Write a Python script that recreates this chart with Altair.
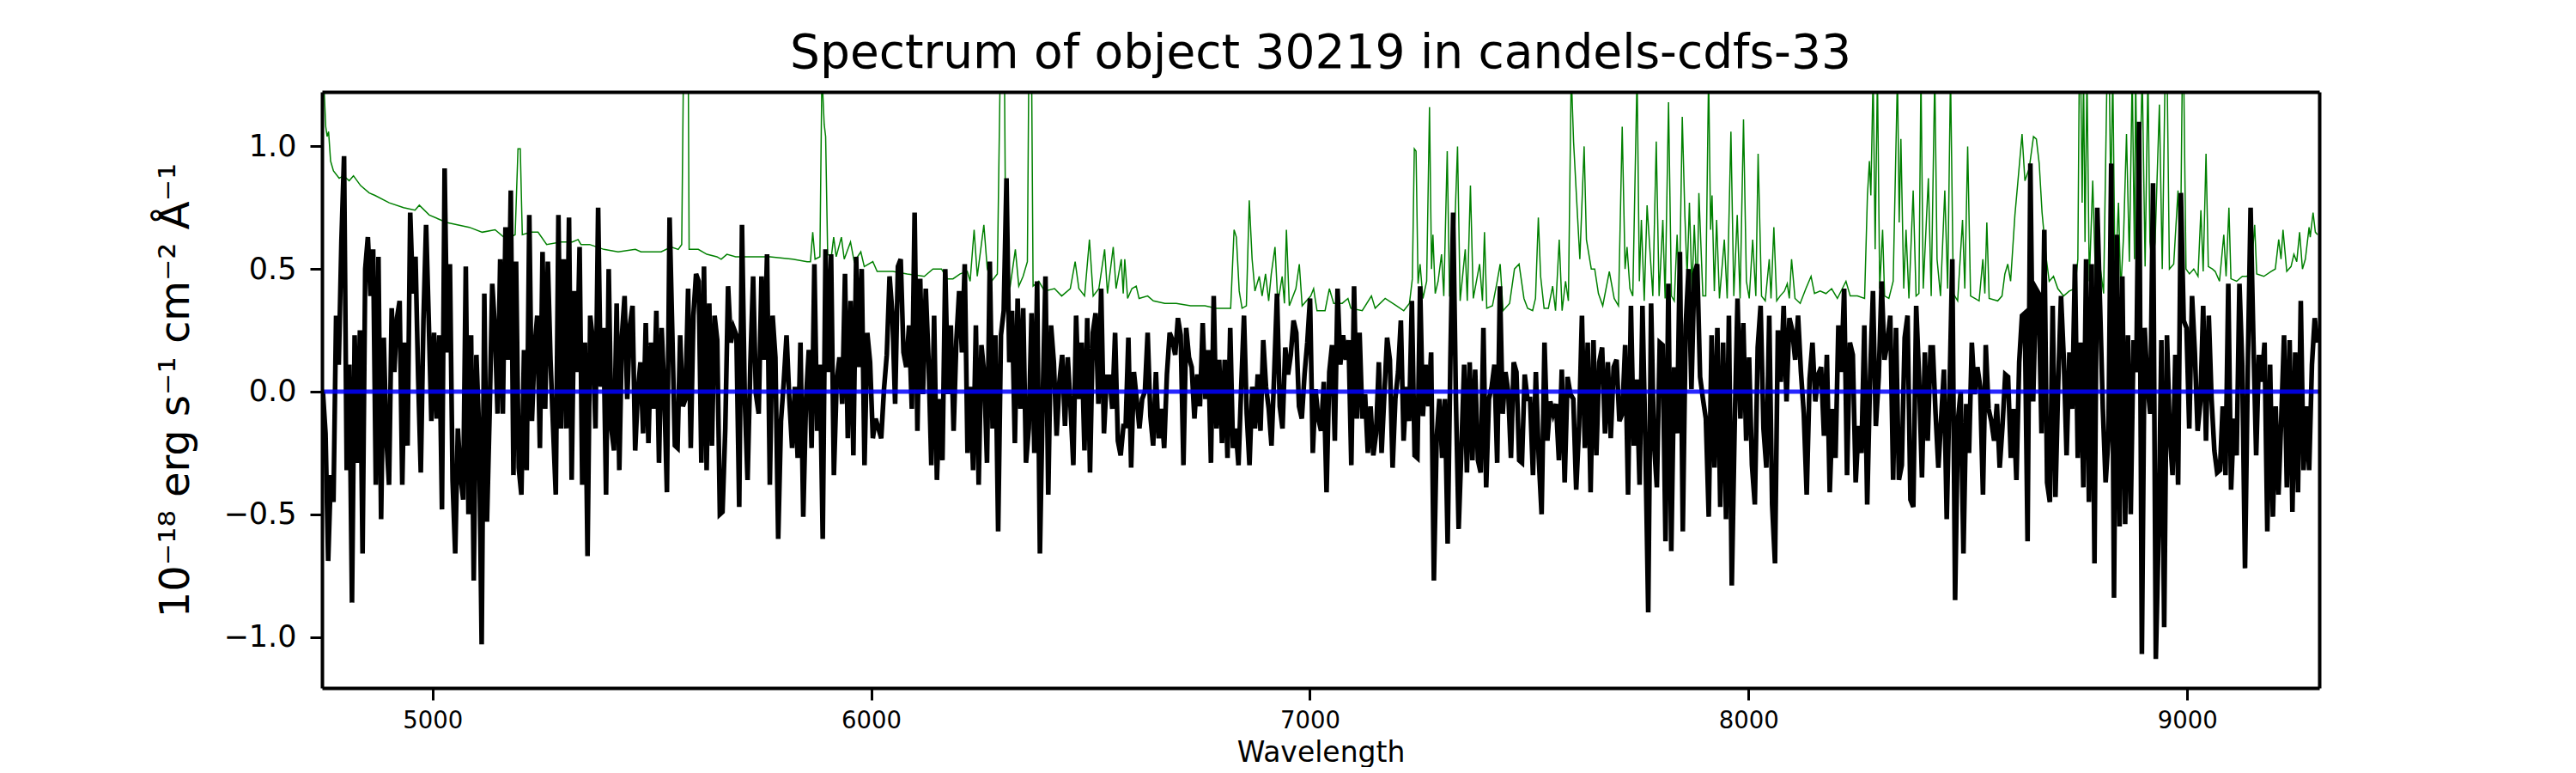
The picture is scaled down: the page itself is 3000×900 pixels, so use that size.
import altair as alt
import numpy as np
import pandas as pd

TITLE = "Spectrum of object 30219 in candels-cdfs-33"
X_LABEL = "Wavelength"
Y_LABEL = "10⁻¹⁸ erg s⁻¹ cm⁻² Å⁻¹"
X_TICKS = [5000, 6000, 7000, 8000, 9000]
Y_TICKS = [-1.0, -0.5, 0.0, 0.5, 1.0]
X_DOMAIN = [4748, 9301]
Y_DOMAIN = [-1.208, 1.222]

seg_bounds = [(4750, 5655), (5661, 6575), (6580, 7496), (7502, 8415), (8420, 9297)]

flux_seg1 = [0.0,-0.17,-0.69,-0.34,-0.45,0.31,0.11,0.61,0.96,-0.32,0.11,-0.86,0.23,-0.29,0.25,-0.66,0.5,0.63,0.39,0.58,-0.38,0.55,-0.52,0.22,-0.19,-0.38,0.34,0.08,0.3,0.37,-0.38,0.2,-0.22,0.73,0.4,0.55,0.06,-0.33,0.29,0.68,0.29,-0.12,0.24,-0.11,0.23,-0.48,0.91,0.16,0.52,-0.36,-0.66,-0.15,-0.34,-0.44,0.51,-0.5,0.23,-0.77,0.15,-0.15,-1.03,0.4,-0.53,-0.09,0.44,0.26,-0.09,0.54,-0.09,0.67,0.13,0.82,-0.34,0.53,-0.31,-0.42,0.17,-0.32,0.72,-0.12,0.18,0.31,-0.23,0.57,-0.07,0.53,0.13,-0.15,-0.42,0.72,-0.15,0.54,-0.15,0.71,-0.36,0.41,0.08,0.59,-0.38,0.2,-0.67,0.31,0.21,-0.15,0.75,0.02,0.26,-0.42,0.5,-0.15,-0.24,0.36,-0.32,0.23,0.39,-0.03,0.27,0.35,-0.24,0.0,0.12,-0.17,0.28,-0.21,0.2,-0.07,0.33,-0.29,0.26,0.0,-0.41,0.71,0.25,-0.22,-0.23,0.23,-0.06,-0.03,0.42,-0.23,0.31,0.48,0.45,-0.29,0.51,-0.32,0.36,-0.22,0.31,0.21,-0.5]

flux_seg2 = [-0.49,-0.15,0.43,0.2,0.26,0.23,-0.47,0.68,-0.03,-0.36,0.11,0.47,-0.01,-0.09,0.47,0.13,0.56,-0.38,0.31,0.14,-0.6,-0.12,0.04,0.23,-0.03,-0.23,0.02,-0.27,0.2,-0.51,-0.03,0.17,-0.23,0.52,-0.16,0.11,-0.6,0.58,0.08,0.56,-0.34,0.04,0.14,-0.05,0.48,-0.19,0.37,-0.26,0.55,0.1,0.5,-0.3,0.24,0.12,-0.19,-0.11,-0.15,-0.19,0.01,0.15,0.47,0.32,-0.05,0.51,0.54,0.16,0.1,0.27,-0.07,0.73,-0.16,0.46,-0.01,0.42,0.13,-0.3,0.31,-0.36,-0.03,-0.28,0.5,-0.01,0.27,-0.16,0.21,0.41,0.16,0.52,-0.25,0.02,-0.32,0.27,-0.38,0.19,0.07,-0.29,0.53,-0.15,0.23,-0.57,0.23,0.33,0.87,0.12,0.33,-0.21,0.38,-0.07,0.34,-0.29,-0.15,0.32,-0.25,0.45,-0.66,-0.03,0.47,-0.42,0.27,0.12,-0.18,0.04,0.15,-0.14,0.14,-0.06,-0.3,0.31,-0.03,0.2,-0.24,0.3,-0.33,0.24,0.32,-0.05,0.42,-0.17,0.06,0.06,-0.07,0.24,-0.2,-0.26,-0.14]

flux_seg3 = [-0.14,0.22,-0.31,0.08,-0.03,-0.15,-0.03,0.0,0.24,-0.1,-0.22,0.08,-0.19,-0.07,-0.23,0.07,0.24,0.21,0.15,0.3,0.23,-0.3,0.26,0.14,0.1,-0.11,0.07,-0.06,0.28,-0.03,0.17,-0.29,0.39,-0.15,0.13,-0.21,0.13,-0.27,0.26,-0.23,-0.15,-0.3,0.02,0.31,-0.09,-0.3,0.02,-0.15,0.07,-0.16,0.21,0.02,-0.07,-0.22,0.08,0.4,-0.06,-0.15,0.18,0.07,0.15,0.29,0.24,-0.06,-0.11,0.07,0.2,0.38,-0.25,0.01,-0.11,-0.16,0.04,-0.41,0.08,0.19,-0.2,0.42,0.11,0.23,0.13,0.21,-0.3,0.43,-0.11,0.24,-0.11,-0.01,-0.25,-0.06,-0.26,-0.17,0.12,-0.25,-0.01,0.22,0.13,-0.31,-0.03,0.08,0.29,-0.2,0.02,-0.12,0.37,-0.26,-0.27,0.43,-0.1,0.11,-0.06,0.16,-0.77,-0.19,-0.03,-0.27,-0.03,-0.62,0.13,0.73,-0.03,-0.56,-0.23,0.11,-0.33,0.12,-0.28,0.09,-0.28,-0.33,0.26,-0.39,-0.03,0.02,0.11,-0.29,0.43,-0.09,0.08,0.0,-0.27,0.12,0.08,-0.28,-0.29,0.07,-0.03]

flux_seg4 = [-0.03,-0.34,0.08,-0.27,-0.5,0.2,-0.2,-0.04,-0.09,-0.05,-0.28,0.09,-0.37,0.06,-0.01,-0.03,-0.4,-0.14,0.31,-0.23,0.2,-0.41,0.21,-0.26,0.12,0.18,-0.17,0.12,-0.19,0.1,0.13,-0.12,-0.09,0.19,-0.42,0.35,-0.22,0.05,-0.38,0.35,-0.2,-0.9,0.36,-0.21,-0.39,0.2,0.19,-0.61,0.44,-0.65,0.1,-0.17,0.57,-0.57,0.27,0.5,0.01,0.48,0.52,0.06,-0.03,-0.11,-0.51,0.23,-0.31,0.26,-0.47,0.2,-0.52,0.31,-0.79,-0.14,0.38,-0.11,0.28,-0.2,0.14,-0.3,-0.46,0.18,0.35,-0.15,-0.31,0.31,-0.46,-0.7,0.25,0.04,0.35,-0.04,0.3,0.25,0.13,0.31,0.08,-0.09,-0.42,0.05,0.2,-0.04,0.07,0.1,-0.18,0.15,-0.41,-0.07,-0.27,0.27,0.08,0.42,-0.34,0.2,0.15,-0.37,-0.14,-0.25,0.27,-0.46,0.06,0.41,-0.14,0.06,0.45,0.13,0.2,0.31,-0.36,0.26,-0.36,-0.3,0.22,0.31,-0.44,-0.47,0.35,0.06,-0.35,0.16,-0.2,0.18]

flux_seg5 = [0.18,-0.09,-0.31,-0.11,0.09,-0.52,0.0,0.54,-0.85,-0.12,0.0,-0.66,-0.05,-0.25,0.2,-0.01,0.1,0.02,-0.42,0.19,-0.07,-0.12,-0.2,-0.05,-0.31,-0.14,0.07,0.06,-0.27,-0.07,-0.36,0.12,0.31,0.32,-0.61,0.93,-0.04,0.42,0.4,-0.17,0.66,-0.37,-0.45,0.35,-0.43,0.04,0.39,0.13,-0.26,0.16,-0.07,0.52,-0.27,0.2,-0.39,0.54,-0.45,0.52,-0.7,0.75,0.35,-0.07,-0.37,-0.19,0.93,-0.84,0.64,-0.55,0.47,-0.54,0.23,-0.5,0.21,0.08,1.1,-1.07,0.26,0.03,-0.09,0.85,-1.09,-0.58,0.21,-0.96,0.23,-0.17,-0.34,0.15,-0.38,0.81,0.29,0.26,-0.15,0.39,0.16,-0.16,-0.04,0.35,-0.2,0.31,-0.03,-0.24,-0.33,-0.32,-0.06,-0.34,0.44,-0.4,-0.11,-0.26,0.44,0.11,-0.72,0.1,0.75,0.21,-0.26,0.15,0.04,0.2,-0.57,0.11,-0.51,-0.06,-0.42,-0.11,0.23,-0.39,0.21,-0.49,0.16,-0.41,0.37,-0.32,-0.06,-0.32,0.11,0.3,0.2]

# noise / sky spectrum (green)
sky_wave = [4751.2,4756.5,4759.7,4763.0,4767.6,4774.1,4787.1,4796.9,4809.9,4819.7,4836.0,4855.6,4868.7,4901.3,4933.9,4960.0,4969.8,4992.6,5031.7,5083.9,5113.3,5142.6,5168.7,5188.3,5194.8,5200.0,5204.6,5224.2,5240.5,5260.1,5292.7,5318.7,5331.8,5338.3,5357.9,5390.5,5423.1,5462.3,5475.3,5521.0,5543.8,5560.1,5568.0,5571.9,5583.0,5584.9,5605.8,5625.3,5648.2,
    5658,5671,5691,5723,5769,5821,5854,5861.5,5866.7,5872,5883,5887.6,5892.8,5896.1,5900.7,5909.1,5914.4,5920.2,5932,5938.5,5952.8,5961.3,5976.3,5984.2,6003.7,6013.5,6049.4,6082,6121.1,6140.7,6160.3,6173.3,6186.4,6202.7,6219,6225.5,6234.6,6241.8,6256.8,6264.6,6274.4,6287.5,6294,6303.8,6307,6316.8,6328.6,6336.4,6346.2,6356,6359.2,6365.7,6369,6382,6395.1,6417.9,6434.2,6453.8,6464.9,6473.4,6486.4,6497.5,6506,6519,6532.1,6538.6,6551.7,6558.2,6570,6574.5,
    6578,6584.5,6594.3,6604.1,6610.6,6630.2,6643.2,6669.3,6695.4,6728,6760.6,6786.7,6819.4,6827.2,6832.4,6838.9,6845.4,6855.2,6861.8,6868.3,6874.8,6884.6,6891.1,6898.9,6906.1,6912,6920.5,6927,6936.8,6942,6946.5,6953.1,6968.1,6975.9,6982.4,7002,7008.5,7016.3,7034.6,7044.4,7054.2,7073.7,7086.8,7093.3,7119.4,7140.3,7148.8,7171.6,7197.7,7214,7227,7233.6,7238.1,7242,7246.6,7251.2,7257.7,7266.2,7272.7,7277.3,7280.5,7285.7,7292.3,7300.1,7305.3,7313.1,7318.4,7324.9,7336.6,7342.5,7354.2,7358.8,7366,7372.5,7386.9,7393.4,7398,7403.2,7416.2,7426,7433.8,7440.4,7455.3,7466.4,7476.9,7488,7496.4,
    7507.8,7514.3,7520.8,7526,7533.9,7543.7,7553.4,7560,7568.4,7575,7582.8,7589.3,7595.8,7601.1,7607.6,7615.4,7625.2,7630.4,7641.5,7649.3,7657.8,7667.6,7682.6,7693.7,7703.5,7712,7718.5,7723,7729.6,7736.1,7745.9,7751.1,7755.7,7762.2,7768.7,7777.2,7781.8,7789.6,7796.1,7804.6,7809.8,7817.6,7824.2,7830.7,7837.2,7842.4,7848.9,7854.8,7860,7865.2,7871.1,7876.3,7882.9,7886.8,7895.9,7902.4,7908.9,7913.5,7916.8,7922,7927.2,7933.7,7944.8,7951.3,7959.8,7966.4,7974.2,7980.7,7988.5,7995.1,8001.6,8009.4,8016.6,8021.8,8029.6,8038.1,8047.2,8051.2,8057.7,8064.2,8072,8081.8,8088.3,8092.9,8098.1,8105.9,8117.7,8130.7,8142.5,8150.3,8163.3,8176.4,8189.4,8202.5,8222.1,8231.8,8248.1,8264.5,8271,8275.5,8278.8,8284,8288.6,8293.8,8299,8305.6,8310.1,8319.9,8329.7,8339.5,8343.4,8347.3,8353.8,8359,8365.6,8375.3,8381.9,8388.4,8393,8398.2,8409.9,8416.4,
    8424.5,8429.7,8437.6,8447.4,8453.9,8460.4,8466.9,8476.7,8487.8,8493,8499.5,8506.1,8515.8,8525.6,8534.1,8538.7,8543.2,8548.5,8568,8577.8,8584.3,8590.9,8597.4,8607.2,8613.7,8623.5,8630,8639.8,8649.6,8656.1,8662.6,8669.1,8678.9,8685.4,8695.2,8705,8718.1,8731.1,8744.2,8750.7,8753.9,8757.2,8760.5,8763.7,8767,8771.5,8776.8,8784.6,8791.1,8802.9,8809.4,8817.2,8822.4,8825.7,8830.3,8835.5,8843.3,8848.5,8855,8861.6,8868.1,8874.6,8879.8,8882.4,8887.7,8897.4,8904,8910.5,8915,8920.3,8926.8,8936.6,8943.1,8949.6,8954.2,8959.4,8969.2,8979,8984.2,8988.8,8992,8997.2,9005.1,9014.9,9024.6,9031.2,9036.4,9042.9,9048.1,9057.3,9063.8,9073.6,9083.4,9088.6,9095.1,9099.7,9112.7,9125.7,9135.5,9145.3,9153.8,9158.4,9174.7,9191,9200.8,9208.6,9213.8,9218.4,9226.9,9236.7,9243.2,9249.7,9256.2,9262.7,9269.3,9277.8,9280.4,9286.9,9292.1,9297.3]

sky_flux = [1.3,1.08,1.04,1.06,0.94,0.90,0.87,0.88,0.86,0.88,0.84,0.81,0.80,0.77,0.75,0.74,0.76,0.72,0.69,0.67,0.65,0.66,0.62,0.64,0.99,0.99,0.64,0.65,0.65,0.60,0.61,0.61,0.62,0.60,0.60,0.58,0.57,0.58,0.57,0.57,0.59,0.58,0.60,1.3,1.3,0.58,0.58,0.56,0.55,
    0.54,0.56,0.55,0.55,0.55,0.54,0.53,0.53,0.65,0.54,0.55,1.3,1.09,1.04,0.56,0.55,0.63,0.55,0.63,0.54,0.61,0.53,0.57,0.51,0.53,0.49,0.49,0.48,0.47,0.50,0.50,0.46,0.46,0.48,0.49,0.45,0.66,0.47,0.68,0.50,0.45,0.48,1.3,1.3,0.47,0.43,0.58,0.43,0.47,0.53,1.3,1.3,0.43,0.45,0.41,0.42,0.39,0.42,0.53,0.42,0.39,0.62,0.39,0.42,0.58,0.40,0.59,0.42,0.54,0.40,
    0.54,0.38,0.42,0.43,0.38,0.39,0.37,0.36,0.36,0.35,0.35,0.34,0.34,0.66,0.63,0.41,0.34,0.35,0.78,0.54,0.41,0.47,0.39,0.48,0.37,0.48,0.59,0.36,0.47,0.36,0.66,0.35,0.42,0.52,0.35,0.39,0.42,0.33,0.33,0.42,0.36,0.36,0.38,0.34,0.33,0.39,0.34,0.38,0.35,0.33,0.36,0.46,0.99,0.98,0.44,0.52,0.38,0.45,1.16,0.50,0.64,0.40,0.45,0.56,0.39,0.98,0.39,0.39,1.00,0.37,0.58,0.37,0.84,0.38,0.52,0.37,0.65,0.34,0.35,0.44,0.52,0.33,0.36,0.50,0.52,0.38,0.34,
    0.33,0.38,0.71,0.47,0.34,0.34,0.43,0.33,0.62,0.33,0.45,0.37,1.3,1.02,0.80,0.54,1.00,0.62,0.50,0.50,0.40,0.35,0.49,0.38,0.35,1.08,0.50,0.59,0.42,0.39,1.3,0.45,0.70,0.37,0.76,0.52,0.39,1.02,0.39,0.70,0.38,1.18,0.39,0.37,0.64,0.39,1.12,0.72,0.47,0.77,0.41,0.68,0.39,0.81,0.39,0.39,1.3,0.66,0.80,0.41,0.70,0.38,0.62,0.38,1.06,0.39,0.72,0.38,1.11,0.45,0.38,0.62,0.39,0.97,0.39,0.37,0.54,0.38,0.67,0.37,0.39,0.41,0.44,0.38,0.54,0.38,0.36,0.42,0.47,0.40,0.41,0.40,0.42,0.38,0.45,0.39,0.39,0.38,0.80,0.94,0.80,1.3,0.58,1.3,0.42,0.66,0.39,0.38,0.45,1.3,0.69,1.03,0.42,0.66,0.38,0.82,0.39,0.40,1.3,0.42,0.87,0.39,
    1.3,0.54,0.39,0.82,0.42,1.3,0.40,0.37,0.70,0.42,1.00,0.39,0.38,0.37,0.54,0.40,0.69,0.38,0.37,0.39,0.48,0.52,0.45,0.72,0.85,1.05,0.86,0.91,1.04,1.03,0.93,0.73,0.54,0.45,0.47,0.42,0.39,0.41,0.42,0.54,1.3,1.3,0.77,1.3,0.61,1.3,0.45,0.86,0.45,0.49,0.40,1.3,1.3,0.77,1.3,0.45,0.77,0.41,0.64,1.05,0.53,1.3,0.54,1.3,0.54,1.3,0.51,1.3,0.61,0.51,0.61,1.17,0.50,1.3,1.3,0.50,0.52,0.82,0.50,1.3,1.3,0.50,0.48,0.50,0.47,0.74,0.49,0.97,0.51,0.50,0.49,0.45,0.64,0.47,0.75,0.46,0.45,0.47,0.47,0.48,0.68,0.48,0.47,0.49,0.50,0.62,0.54,0.66,0.49,0.51,0.56,0.53,0.65,0.50,0.54,0.67,0.63,0.73,0.65,0.64]

frames = []
for (lo, hi), vals in zip(seg_bounds, [flux_seg1, flux_seg2, flux_seg3, flux_seg4, flux_seg5]):
    frames.append(pd.DataFrame({"wave": np.linspace(lo, hi, len(vals)), "flux": vals}))
flux_df = pd.concat(frames, ignore_index=True)
sky_df = pd.DataFrame({"wave": sky_wave, "flux": sky_flux})
zero_df = pd.DataFrame({"flux": [0.0]})

FONT = "DejaVu Sans"
FRAME_W = 4

x_scale = alt.Scale(domain=X_DOMAIN, nice=False, zero=False)
y_scale = alt.Scale(domain=Y_DOMAIN, nice=False, zero=False)

x_enc = alt.X(
    "wave:Q",
    scale=x_scale,
    axis=alt.Axis(
        orient="bottom", values=X_TICKS, format="d", title=X_LABEL, grid=False,
        labelFont=FONT, labelFontSize=27.5, labelColor="black", labelPadding=10,
        tickSize=14, tickWidth=3, tickColor="black",
        domain=True, domainWidth=FRAME_W, domainColor="black",
        titleFont=FONT, titleFontSize=33, titleFontWeight="normal", titleColor="black",
        titleY=85, titleBaseline="alphabetic", zindex=1,
    ),
)
y_enc = alt.Y(
    "flux:Q",
    scale=y_scale,
    axis=alt.Axis(
        orient="left", values=Y_TICKS, format=".1f", title=Y_LABEL, grid=False,
        labelFont=FONT, labelFontSize=35, labelColor="black", labelPadding=16,
        tickSize=14, tickWidth=3, tickColor="black",
        domain=True, domainWidth=FRAME_W, domainColor="black",
        titleFont=FONT, titleFontSize=48, titleFontWeight="normal", titleColor="black",
        titleX=-170, titleY=347, titleAngle=270, titleBaseline="middle", titleAlign="center",
        zindex=1,
    ),
)

sky = alt.Chart(sky_df).mark_line(color="#008000", strokeWidth=1.5, clip=True).encode(
    x=x_enc, y=y_enc, order="wave:Q"
)
flux = alt.Chart(flux_df).mark_line(color="black", strokeWidth=5.5, clip=True).encode(
    x=alt.X("wave:Q", axis=None), y=alt.Y("flux:Q", axis=None), order="wave:Q"
)
zero = alt.Chart(zero_df).mark_rule(color="#0000ff", strokeWidth=5, opacity=0.85).encode(
    y=alt.Y("flux:Q", axis=None)
)

# top and right spines, drawn as label-less axes sharing the same scales
frame_axis = dict(labels=False, ticks=False, grid=False, title=None,
                  domain=True, domainWidth=FRAME_W, domainColor="black", zindex=1)
spines = alt.Chart(sky_df).mark_point(opacity=0, clip=True).encode(
    x=alt.X("wave:Q", axis=alt.Axis(orient="top", **frame_axis)),
    y=alt.Y("flux:Q", axis=alt.Axis(orient="right", **frame_axis)),
)

chart = (
    alt.layer(sky, flux, zero, spines)
    .resolve_axis(x="independent", y="independent")
    .properties(
        width=2326,
        height=694,
        title=alt.TitleParams(
            TITLE, font=FONT, fontSize=55, fontWeight="normal", color="black",
            anchor="middle", offset=21, dy=48, baseline="alphabetic",
        ),
        autosize=alt.AutoSizeParams(type="none"),
        padding={"left": 367, "top": 99, "right": 280, "bottom": 92},
    )
    .configure_view(stroke=None)
    .configure(background="white")
)

chart.save("out.html", embed_options={"renderer": "svg", "actions": False})
